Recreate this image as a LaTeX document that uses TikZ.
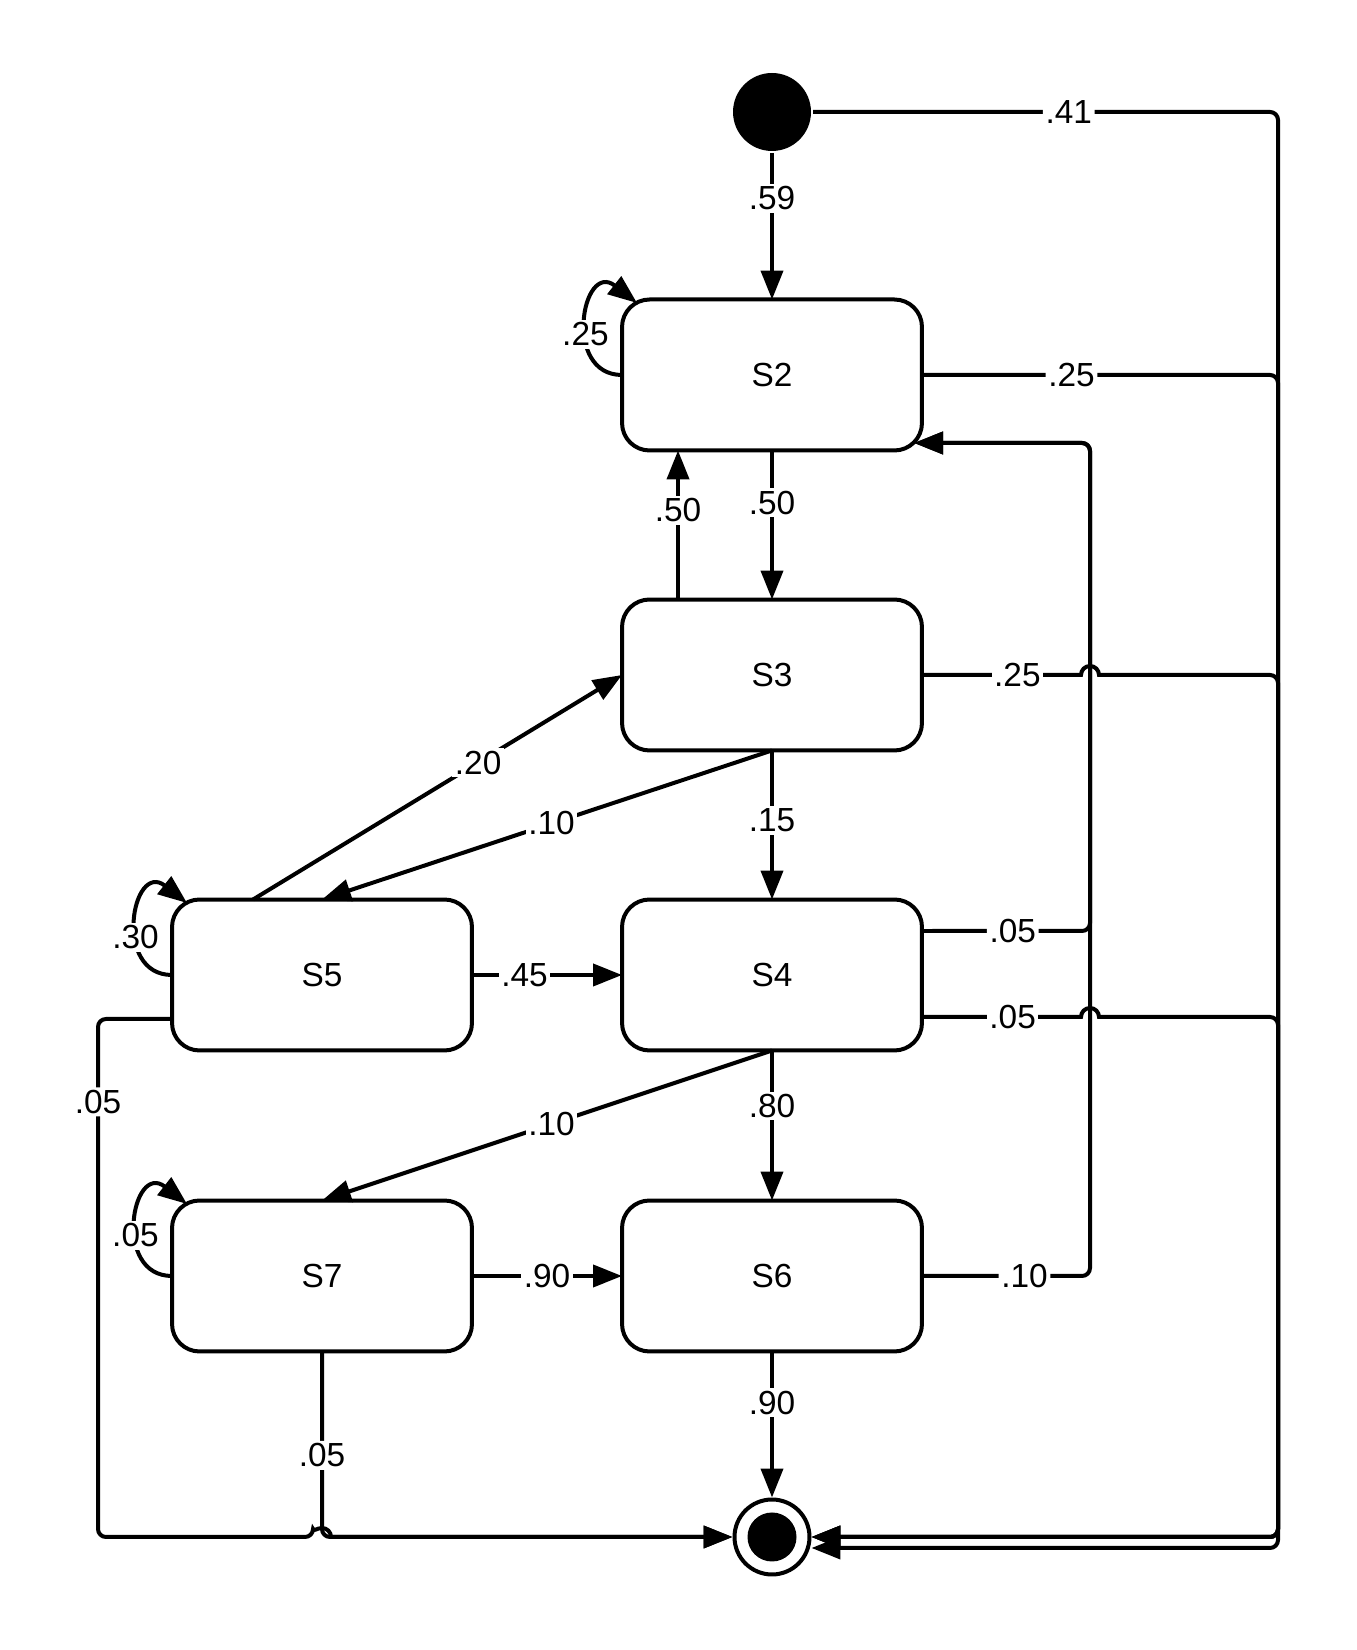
\documentclass[tikz,border=0pt]{standalone}
\usepackage{fontspec}
\setmainfont{Liberation Sans}
\usetikzlibrary{arrows.meta}

\begin{document}
\begin{tikzpicture}[x=0.02cm,y=0.02cm,line width=0.08cm,
  >={Triangle[length=0.58cm,width=0.44cm]},
  font=\fontsize{19}{23}\selectfont,
  statebox/.style={draw,rectangle,rounded corners=0.55cm,minimum width=6cm,minimum height=3.02cm,outer sep=0pt},
  startdot/.style={circle,fill,minimum size=1.56cm,inner sep=0pt},
  enddot/.style={circle,draw,minimum size=1.5cm,inner sep=0pt},
  lbl/.style={fill=white,inner sep=1.5pt},
  elbow/.style={rounded corners=0.16cm}]
  \useasboundingbox (0,0) rectangle (1356,1650);
  % states
  \node[startdot] (start) at (772,1538) {};
  \node[statebox] (S2) at (772,1275) {S2};
  \node[statebox] (S3) at (772,975) {S3};
  \node[statebox] (S4) at (772,675) {S4};
  \node[statebox] (S5) at (322,675) {S5};
  \node[statebox] (S6) at (772,374) {S6};
  \node[statebox] (S7) at (322,374) {S7};
  \node[enddot] (final) at (772,113) {};
  \fill (final) circle[radius=24.5];
  % buses on the sides
  \coordinate (busL) at (98,0);
  \coordinate (busM) at (1090,0);
  \coordinate (busR) at (1278,0);
  \coordinate (low) at (0,102);
  \coordinate (S2in) at (914,1207);

  \draw[->] (start) -- node[lbl,pos=0.31]{.59} (S2);
  \draw[->,elbow] (start) -- node[lbl,pos=0.55]{.41} (start -| busR) -- (busR |- low) -- (final.east |- low);
  \draw[->,elbow] (S2) -- node[lbl,pos=0.42]{.25} (S2 -| busR) -- (busR |- final) -- (final);
  \draw[->] (S2) -- node[lbl,pos=0.35]{.50} (S3);
  \draw[->] ([xshift=-1.88cm]S3.north) -- node[lbl,pos=0.6]{.50} ([xshift=-1.88cm]S2.south);
  % S3 line hops over the middle bus
  \draw[->] (S3) -- (1081,975) node[lbl,pos=0.6]{.25} arc[start angle=180,end angle=0,radius=9]
    [elbow] -- (S3 -| busR) -- (busR |- final) -- (final);
  \draw[->] (S3) -- node[lbl,pos=0.47]{.15} (S4);
  \draw[->] (S3.south) -- node[lbl,pos=0.49]{.10} (S5.north);
  \draw[->] ([xshift=-1.38cm]S5.north) -- node[lbl,pos=0.61]{.20} (S3.west);
  \draw[->] (S5) -- node[lbl,pos=0.35]{.45} (S4);
  \draw[->] ([yshift=-0.88cm]S5.west) [elbow] -- (busL |- 0,631) -- (busL |- final) node[lbl,pos=0.16]{.05}
    -- (313,113) [sharp corners] arc[start angle=180,end angle=0,radius=9] -- (final);
  \draw[->,elbow] ([yshift=0.88cm]S4.east) -- node[lbl,pos=0.54]{.05} (busM |- 0,719) -- (busM |- S2in) -- (S2in);
  \draw[->] ([yshift=-0.84cm]S4.east) -- (1081,633) node[lbl,pos=0.57]{.05} arc[start angle=180,end angle=0,radius=9]
    [elbow] -- (busR |- 0,633) -- (busR |- final) -- (final);
  \draw[->] (S4) -- node[lbl,pos=0.37]{.80} (S6);
  \draw[->] (S4.south) -- node[lbl,pos=0.49]{.10} (S7.north);
  \draw[->,elbow] (S6) -- node[lbl,pos=0.61]{.10} (S6 -| busM) -- (busM |- S2in) -- (S2in);
  \draw[->] (S6) -- node[lbl,pos=0.35]{.90} (final);
  \draw[->] (S7) -- node[lbl,pos=0.5]{.90} (S6);
  \draw[->,elbow] (S7) -- node[lbl,pos=0.56]{.05} (S7 |- final) -- (final);
  % self loops
  \draw[->] (S2.west) .. controls ([shift={(-60,0)}]S2.west) and ([shift={(-40,115)}]S2.west) .. ([shift={(15,72)}]S2.west) node[lbl,pos=0.42]{.25};
  \draw[->] (S5.west) .. controls ([shift={(-60,0)}]S5.west) and ([shift={(-40,115)}]S5.west) .. ([shift={(15,72)}]S5.west) node[lbl,pos=0.4]{.30};
  \draw[->] (S7.west) .. controls ([shift={(-60,0)}]S7.west) and ([shift={(-40,115)}]S7.west) .. ([shift={(15,72)}]S7.west) node[lbl,pos=0.42]{.05};
\end{tikzpicture}
\end{document}
